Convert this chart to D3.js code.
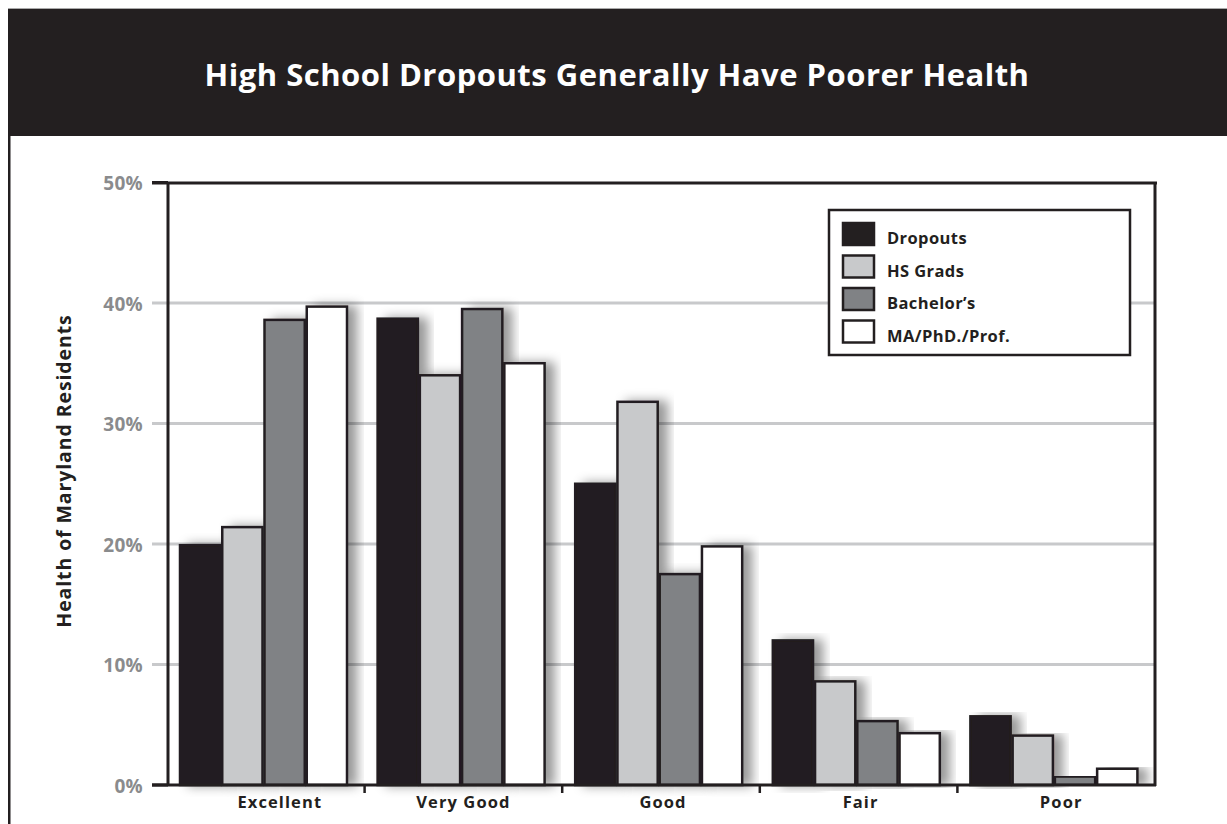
<!DOCTYPE html>
<html>
<head>
<meta charset="utf-8">
<script src="https://cdn.jsdelivr.net/npm/d3@7"></script>
<style>
  html, body { margin: 0; padding: 0; background: #fff; }
  svg { display: block; }
  text { font-family: "Open Sans", "Lato", sans-serif; }
</style>
</head>
<body>
<svg id="chart" width="1227" height="824"></svg>
<script>
// ---- data ----
const categories = ["Excellent", "Very Good", "Good", "Fair", "Poor"];
const seriesNames = ["Dropouts", "HS Grads", "Bachelor’s", "MA/PhD./Prof."];
const dropouts  = [19.9, 38.7, 25.0, 12.0, 5.7];
const hsGrads   = [21.4, 34.0, 31.8, 8.6, 4.1];
const bachelors = [38.6, 39.5, 17.5, 5.3, 0.7];
const masters   = [39.7, 35.0, 19.8, 4.3, 1.35];
const yTicks = [0, 10, 20, 30, 40, 50];
const title = "High School Dropouts Generally Have Poorer Health";
const yTitle = "Health of Maryland Residents";

const seriesValues = [dropouts, hsGrads, bachelors, masters];
const fills = ["#231f20", "#c8c9cb", "#808285", "#ffffff"];
const ink = "#231f20";
const FONT = "'Open Sans', Lato, sans-serif";
const labelShift = [14, 0, 2, 2, 5]; // x label nudges seen in the original layout

const svg = d3.select("#chart");

// drop shadow filter
const defs = svg.append("defs");
const f = defs.append("filter").attr("id", "shadow")
  .attr("x", "-20%").attr("y", "-5%").attr("width", "160%").attr("height", "110%");
f.append("feDropShadow").attr("dx", 9).attr("dy", 0).attr("stdDeviation", 5.5)
  .attr("flood-color", "#000").attr("flood-opacity", 0.4);

// header band
svg.append("rect").attr("x", 8).attr("y", 8).attr("width", 1219).attr("height", 1.5).attr("fill", "#aaa");
svg.append("rect").attr("x", 8).attr("y", 9).attr("width", 1219).attr("height", 127).attr("fill", ink);
svg.append("text").attr("x", 617).attr("y", 86).attr("text-anchor", "middle")
  .attr("fill", "#fff").attr("font-size", 31).attr("font-weight", 700)
  .attr("font-family", FONT).attr("letter-spacing", 0.5).text(title);
// left frame border
svg.append("rect").attr("x", 8).attr("y", 136).attr("width", 2.5).attr("height", 688).attr("fill", ink);

// scales
const x0 = d3.scaleBand().domain(categories).range([167, 1155]).paddingInner(0).paddingOuter(0);
const x1 = d3.scaleBand().domain(seriesNames).range([12, 181]).padding(0);
const y = d3.scaleLinear().domain([0, 50]).range([785, 182.5]);

// gridlines
svg.append("g").selectAll("line").data(yTicks.filter(t => t > 0 && t < 50)).join("line")
  .attr("x1", 152).attr("x2", 1155)
  .attr("y1", d => y(d)).attr("y2", d => y(d))
  .attr("stroke", "#c8c9cb").attr("stroke-width", 3);

// y tick labels
const yAxis = d3.axisLeft(y).tickValues(yTicks).tickFormat(d => d + "%").tickSize(0).tickPadding(0);
const ya = svg.append("g").attr("transform", "translate(143,0)").call(yAxis);
ya.select(".domain").remove();
ya.selectAll("text").attr("fill", "#8a8b8d").attr("font-size", 19).attr("font-weight", 700)
  .attr("font-family", FONT).attr("letter-spacing", 0.3).attr("dy", "0.37em");
// black stubs for 0% and 50%
svg.append("g").selectAll("line").data([0, 50]).join("line")
  .attr("x1", 152).attr("x2", 168).attr("y1", d => y(d)).attr("y2", d => y(d))
  .attr("stroke", ink).attr("stroke-width", 3);

// bars
const groups = svg.append("g").selectAll("g").data(categories).join("g")
  .attr("transform", d => `translate(${x0(d)},0)`);
groups.each(function(cat, ci) {
  const g = d3.select(this);
  seriesNames.forEach((s, si) => {
    const v = seriesValues[si][ci];
    g.append("rect")
      .attr("x", x1(s) + 1).attr("width", x1.bandwidth() - 2)
      .attr("y", y(v)).attr("height", y(0) - y(v))
      .attr("fill", fills[si]).attr("stroke", ink).attr("stroke-width", 2.5)
      .attr("filter", "url(#shadow)");
  });
});

// plot frame: top, left, right
svg.append("line").attr("x1", 152).attr("x2", 1157).attr("y1", 183).attr("y2", 183).attr("stroke", ink).attr("stroke-width", 3);
svg.append("line").attr("x1", 168).attr("x2", 168).attr("y1", 182).attr("y2", 786).attr("stroke", ink).attr("stroke-width", 3);
svg.append("line").attr("x1", 1155).attr("x2", 1155).attr("y1", 182).attr("y2", 786).attr("stroke", ink).attr("stroke-width", 3);

// x axis
const xAxis = d3.axisBottom(x0).tickSize(0).tickPadding(0);
const xa = svg.append("g").attr("transform", `translate(0,${y(0)})`).call(xAxis);
xa.select(".domain").remove();
xa.selectAll("text").attr("fill", ink).attr("font-size", 16.5).attr("font-weight", 700)
  .attr("letter-spacing", 1.1).attr("font-family", FONT).attr("dy", null).attr("y", 23)
  .attr("x", (d, i) => labelShift[i]);
svg.append("line").attr("x1", 152).attr("x2", 1156).attr("y1", y(0)).attr("y2", y(0)).attr("stroke", ink).attr("stroke-width", 3);
svg.append("g").selectAll("line").data(categories.slice(1)).join("line")
  .attr("x1", d => x0(d)).attr("x2", d => x0(d)).attr("y1", y(0)).attr("y2", y(0) + 8)
  .attr("stroke", ink).attr("stroke-width", 2.5);

// y title
svg.append("text").attr("transform", "translate(71,471) rotate(-90)")
  .attr("text-anchor", "middle").attr("fill", ink).attr("font-size", 19.5).attr("font-weight", 700)
  .attr("font-family", FONT).attr("letter-spacing", 0.9).text(yTitle);

// legend
const lg = svg.append("g").attr("transform", "translate(829,210)");
lg.append("rect").attr("width", 301).attr("height", 145).attr("fill", "#fff")
  .attr("stroke", ink).attr("stroke-width", 2.5);
const items = lg.selectAll("g").data(seriesNames).join("g")
  .attr("transform", (d, i) => `translate(14,${13 + i * 32.5})`);
items.append("rect").attr("width", 31).attr("height", 22)
  .attr("fill", (d, i) => fills[i]).attr("stroke", ink).attr("stroke-width", 2.5);
items.append("text").attr("x", 44).attr("y", 21)
  .attr("fill", ink).attr("font-size", 16.5).attr("font-weight", 700).attr("letter-spacing", 0.4)
  .attr("font-family", FONT).text(d => d);
</script>
</body>
</html>
